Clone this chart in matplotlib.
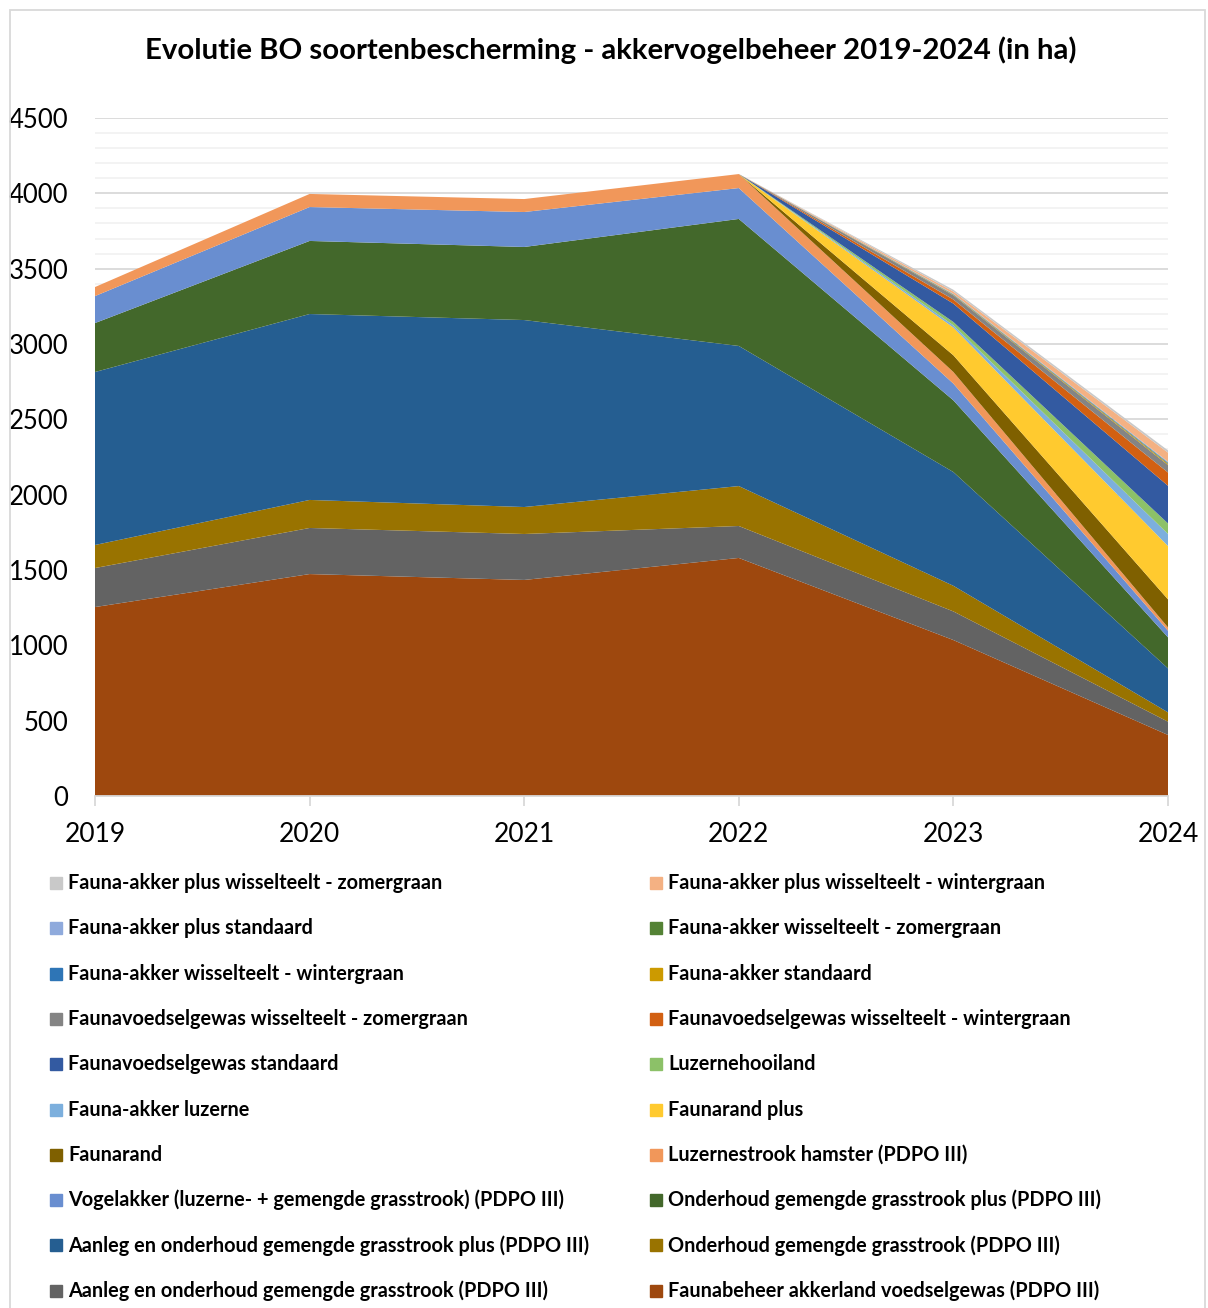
import numpy as np
import matplotlib.pyplot as plt
from matplotlib.patches import Rectangle

plt.rcParams['font.family'] = ['Lato', 'DejaVu Sans']

jaren = [2019, 2020, 2021, 2022, 2023, 2024]

# series van onder naar boven (stapelvolgorde)
namen = [
    'Faunabeheer akkerland voedselgewas (PDPO III)',
    'Aanleg en onderhoud gemengde grasstrook (PDPO III)',
    'Onderhoud gemengde grasstrook (PDPO III)',
    'Aanleg en onderhoud gemengde grasstrook plus (PDPO III)',
    'Onderhoud gemengde grasstrook plus (PDPO III)',
    'Vogelakker (luzerne- + gemengde grasstrook) (PDPO III)',
    'Luzernestrook hamster (PDPO III)',
    'Faunarand',
    'Faunarand plus',
    'Fauna-akker luzerne',
    'Luzernehooiland',
    'Faunavoedselgewas standaard',
    'Faunavoedselgewas wisselteelt - wintergraan',
    'Faunavoedselgewas wisselteelt - zomergraan',
    'Fauna-akker standaard',
    'Fauna-akker wisselteelt - wintergraan',
    'Fauna-akker wisselteelt - zomergraan',
    'Fauna-akker plus standaard',
    'Fauna-akker plus wisselteelt - wintergraan',
    'Fauna-akker plus wisselteelt - zomergraan',
]

faunabeheer = [1254, 1473, 1434, 1580, 1035, 405]
aanleg = [259, 306, 305, 212, 190, 88]
onderhoud = [153, 186, 179, 265, 170, 62]
aanleg_plus = [1148, 1234, 1241, 930, 755, 292]
onderhoud_plus = [325, 485, 485, 843, 476, 206]
vogelakker = [179, 225, 232, 205, 111, 44]
luzernestrook = [60, 87, 86, 93, 77, 22]
faunarand = [0, 0, 0, 0, 111, 186]
faunarand_plus = [0, 0, 0, 0, 184, 354]
fa_luzerne = [0, 0, 0, 0, 15, 80]
luzernehooiland = [0, 0, 0, 0, 22, 70]
fvg_standaard = [0, 0, 0, 0, 122, 250]
fvg_winter = [0, 0, 0, 0, 27, 88]
fvg_zomer = [0, 0, 0, 0, 28, 50]
fa_standaard = [0, 0, 0, 0, 3, 8]
fa_winter = [0, 0, 0, 0, 2, 5]
fa_zomer = [0, 0, 0, 0, 2, 3]
fa_plus_standaard = [0, 0, 0, 0, 3, 6]
fa_plus_winter = [0, 0, 0, 0, 15, 60]
fa_plus_zomer = [0, 0, 0, 0, 12, 15]

waarden = [faunabeheer, aanleg, onderhoud, aanleg_plus, onderhoud_plus,
           vogelakker, luzernestrook, faunarand, faunarand_plus, fa_luzerne,
           luzernehooiland, fvg_standaard, fvg_winter, fvg_zomer,
           fa_standaard, fa_winter, fa_zomer, fa_plus_standaard,
           fa_plus_winter, fa_plus_zomer]

kleuren = ['#9E480E', '#636363', '#997300', '#255E91', '#43682B',
           '#698ED0', '#F1975A', '#7F6000', '#FFCA2F', '#7CAFDD',
           '#8CC168', '#335AA1', '#D26012', '#848484', '#CC9A00',
           '#2E75B6', '#548235', '#8FAADC', '#F4B183', '#C9C9C9']

fig = plt.figure(figsize=(12.08, 13.08), dpi=100)
ax = fig.add_axes([95/1208, 1-796/1308, (1168-95)/1208, (796-118)/1308])

ax.stackplot(jaren, *waarden, colors=kleuren, linewidth=0, zorder=2)

ax.set_xlim(2019, 2024)
ax.set_ylim(0, 4500)
ax.set_yticks(np.arange(0, 4501, 500))
ax.set_yticks(np.arange(0, 4501, 100), minor=True)
ax.set_xticks(jaren)
ax.grid(axis='y', which='major', color='#D9D9D9', linewidth=1.3, zorder=0)
ax.grid(axis='y', which='minor', color='#F2F2F2', linewidth=1.3, zorder=0)
ax.set_axisbelow(True)
for s in ['top', 'right', 'left']:
    ax.spines[s].set_visible(False)
ax.spines['bottom'].set_color('#D9D9D9')
ax.spines['bottom'].set_linewidth(1.3)
ax.spines['bottom'].set_zorder(3)
ax.tick_params(axis='y', which='both', length=0, labelsize=18.5, pad=19, colors='black')
ax.tick_params(axis='x', length=7, width=1.3, color='#D9D9D9', labelsize=19, pad=12)

fig.text(611/1208, 1-50/1308, 'Evolutie BO soortenbescherming - akkervogelbeheer 2019-2024 (in ha)',
         ha='center', va='center', fontsize=21.2, fontweight='bold')

# legenda: rij per rij, bovenste reeks eerst
volgorde = list(range(len(namen)))[::-1]
for i, k in enumerate(volgorde):
    rij = i // 2
    kol = i % 2
    x0 = 50 + kol * 600
    y0 = 883 + rij * 45.3
    fig.patches.append(Rectangle((x0/1208, 1-(y0+6)/1308), 12/1208, 12/1308,
                                 transform=fig.transFigure, color=kleuren[k]))
    fig.text((x0+18)/1208, 1-y0/1308, namen[k], ha='left', va='center',
             fontsize=14.3, fontweight='bold')

# kader rond de grafiek
fig.patches.append(Rectangle((10/1208, -0.01), 1195/1208, 1-10/1308+0.01,
                             transform=fig.transFigure, fill=False,
                             edgecolor='#D9D9D9', linewidth=1.3))

fig.savefig('out.png', dpi=100)
